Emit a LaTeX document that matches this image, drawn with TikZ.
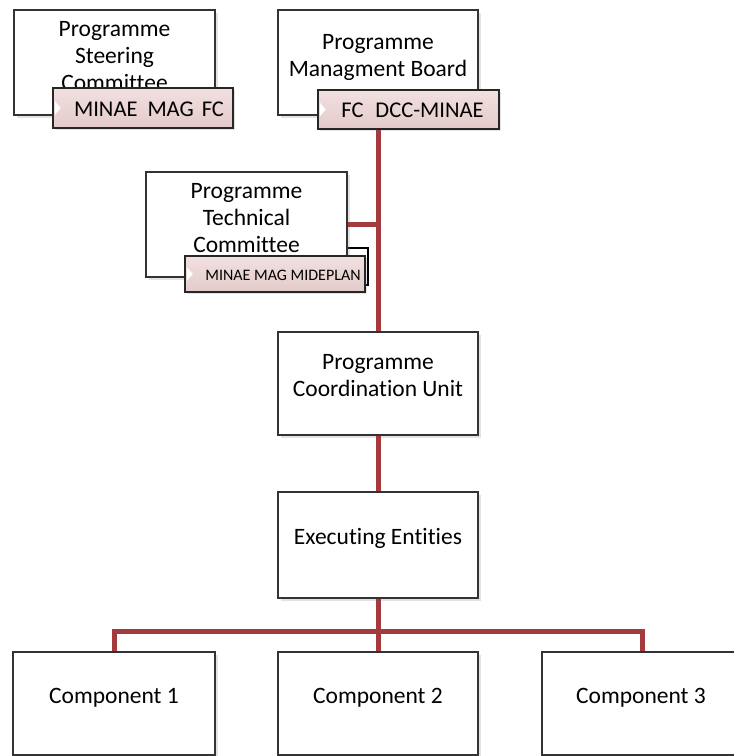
\documentclass[tikz,border=0pt]{standalone}
\usepackage{fontspec}
\setmainfont[Ligatures=NoCommon]{Carlito}
\usetikzlibrary{shadows}
\definecolor{conn}{HTML}{A33A3D}
\definecolor{labtop}{HTML}{F2E0E0}
\definecolor{labbot}{HTML}{E3CACA}
\definecolor{edge}{HTML}{333333}
\tikzset{
  orgbox/.style={draw=edge, line width=2pt, fill=white, rectangle, inner sep=0pt,
    drop shadow={opacity=0.22, shadow xshift=2.5pt, shadow yshift=-2.5pt}},
  tagbox/.style={draw=black!85, line width=2.5pt, rectangle, top color=labtop, bottom color=labbot, inner sep=0pt,
    drop shadow={opacity=0.22, shadow xshift=2pt, shadow yshift=-2pt}},
  maintext/.style={font=\fontsize{23.5}{27}\selectfont, align=center, inner sep=0pt},
  tagtext/.style={font=\fontsize{22.5}{26}\selectfont, inner sep=0pt},
  smalltag/.style={font=\fontsize{16}{19}\selectfont, inner sep=0pt},
  link/.style={draw=conn, line width=5pt},
  notch/.style={fill=white}
}
\begin{document}
\begin{tikzpicture}[x=1pt,y=-1pt]
\clip (0,0) rectangle (734,756);
\fill[white] (0,0) rectangle (734,756);

% Steering committee
\node[orgbox, minimum width=201pt, minimum height=105pt] (steer) at (114.5,62.5) {};
\node[maintext] (steert) at (114.5,56) {Programme\\Steering\\Committee};
\node[tagbox, minimum width=180pt, minimum height=40pt] (steerlab) at (143,108) {};
\fill[notch] ([xshift=3pt,yshift=7pt]steerlab.west) -- ([xshift=9pt]steerlab.west) -- ([xshift=3pt,yshift=-7pt]steerlab.west) -- cycle;
\node[tagtext] (steerlabt) at (149,109) {MINAE\hspace{10pt}MAG\hspace{8pt}FC};

% Management board
\node[orgbox, minimum width=200pt, minimum height=105pt] (mgmt) at (378,62.5) {};
\node[maintext] (mgmtt) at (378,57) {Programme\\Managment Board};
\node[tagbox, minimum width=181pt, minimum height=39pt] (mgmtlab) at (408.5,109.5) {};
\fill[notch] ([xshift=3pt,yshift=7pt]mgmtlab.west) -- ([xshift=9pt]mgmtlab.west) -- ([xshift=3pt,yshift=-7pt]mgmtlab.west) -- cycle;
\node[tagtext] (mgmtlabt) at (412.5,110) {FC\hspace{12pt}DCC-MINAE};

% Technical committee
\draw[black, line width=2pt] (188,248) rectangle (368,285);
\node[orgbox, minimum width=201pt, minimum height=105pt] (tech) at (246.5,224.5) {};
\node[maintext] (techt) at (246.5,218) {Programme\\Technical\\Committee};
\node[tagbox, minimum width=180pt, minimum height=36pt] (techlab) at (275,274) {};
\fill[notch] ([xshift=3pt,yshift=7pt]techlab.west) -- ([xshift=9pt]techlab.west) -- ([xshift=3pt,yshift=-7pt]techlab.west) -- cycle;
\node[smalltag] (techlabt) at (283,275) {MINAE MAG MIDEPLAN};

% Coordination unit and executing entities
\node[orgbox, minimum width=200pt, minimum height=103pt] (pcu) at (378,383.5) {};
\node[maintext] (pcut) at (378,376) {Programme\\Coordination Unit};
\node[orgbox, minimum width=200pt, minimum height=106pt] (exec) at (378,545) {};
\node[maintext] (exect) at (378,538) {Executing Entities};

% Components
\node[orgbox, minimum width=202pt, minimum height=103pt] (comp1) at (114,703.5) {};
\node[maintext] (comp1t) at (114,698) {Component 1};
\node[orgbox, minimum width=200pt, minimum height=103pt] (comp2) at (378,703.5) {};
\node[maintext] (comp2t) at (378,698) {Component 2};
\node[orgbox, minimum width=200pt, minimum height=103pt] (comp3) at (642,703.5) {};
\node[maintext] (comp3t) at (641,698) {Component 3};

% Connectors
\draw[link] (mgmtlab.south -| pcu.north) -- (pcu.north);
\draw[link] (tech.east) -- (tech.east -| pcu.north);
\draw[link] (pcu.south) -- (exec.north);
\coordinate (bus) at (378,631);
\draw[link] (exec.south) -- (comp2.north);
\draw[link] (comp1.north) |- (bus) -| (comp3.north);
\end{tikzpicture}
\end{document}
